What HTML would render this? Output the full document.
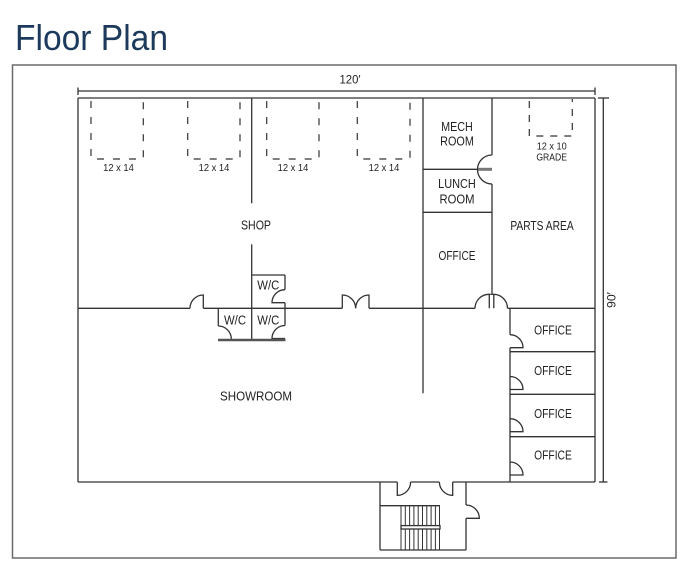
<!DOCTYPE html>
<html><head><meta charset="utf-8"><style>
html,body{margin:0;padding:0;background:#fff;}
svg{display:block;}
text{font-family:"Liberation Sans",sans-serif;fill:#222;}
</style></head><body>
<svg width="693" height="588" viewBox="0 0 693 588" xmlns="http://www.w3.org/2000/svg">
<rect width="693" height="588" fill="#fff"/>
<text x="15" y="50" font-size="36" textLength="153" lengthAdjust="spacingAndGlyphs" style="fill:#1d3a5c">Floor Plan</text>
<rect x="12.5" y="65" width="663.5" height="493" fill="none" stroke="#6a6a6a" stroke-width="1.5"/>

<g stroke="#333" stroke-width="1.3" fill="none">
<!-- dimension lines -->
<line x1="78" y1="91" x2="595" y2="91"/>
<line x1="78" y1="87.5" x2="78" y2="95"/>
<line x1="595" y1="87.5" x2="595" y2="95"/>
<line x1="603.3" y1="98" x2="603.3" y2="482"/>
<line x1="598" y1="98" x2="609" y2="98"/>
<line x1="599" y1="482" x2="607.5" y2="482"/>

<!-- outer walls -->
<line x1="78" y1="98" x2="595" y2="98"/>
<line x1="78" y1="98" x2="78" y2="482"/>
<line x1="595" y1="98" x2="595" y2="482"/>
<line x1="78" y1="482" x2="397.3" y2="482"/>
<line x1="410.7" y1="482" x2="439.3" y2="482"/>
<line x1="452.7" y1="482" x2="595" y2="482"/>

<!-- shop vertical -->
<line x1="251.7" y1="98" x2="251.7" y2="203.3"/>
<line x1="251.7" y1="244.3" x2="251.7" y2="340"/>

<!-- upper W/C -->
<line x1="251.7" y1="275" x2="285" y2="275"/>
<line x1="285" y1="275" x2="285" y2="289.7"/>
<path d="M285 289.7 A13 13 0 0 0 272 302.7 L285 302.7"/>
<line x1="285" y1="302.7" x2="285" y2="308.3"/>

<!-- lower W/C -->
<line x1="218.3" y1="308.3" x2="218.3" y2="326"/>
<path d="M218.3 326 A13 13 0 0 1 231.3 339"/>
<line x1="285" y1="308.3" x2="285" y2="325.5"/>
<path d="M285 325.5 A13 13 0 0 0 272 338.5 L285 338.5"/>

<!-- shop/showroom wall -->
<line x1="78" y1="308.3" x2="190" y2="308.3"/>
<path d="M190 308.3 A13.3 13.3 0 0 1 203.3 295 L203.3 308.3"/>
<line x1="203.3" y1="308.3" x2="342.3" y2="308.3"/>
<path d="M342.3 308.3 L342.3 295 A13.3 13.3 0 0 1 355.6 308.3"/>
<path d="M369 308.3 L369 295 A13.3 13.3 0 0 0 355.7 308.3"/>
<line x1="369" y1="308.3" x2="475" y2="308.3"/>
<path d="M475 308.3 A14 14 0 0 1 489.3 294.3 L489.3 308.3"/>
<path d="M493.8 308.3 L493.8 294.3 A14 14 0 0 1 507.5 308.3"/>
<line x1="507.5" y1="308.3" x2="595" y2="308.3"/>

<!-- middle column -->
<line x1="423" y1="98" x2="423" y2="393.3"/>
<line x1="492" y1="98" x2="492" y2="155"/>
<line x1="492" y1="184" x2="492" y2="295"/>
<line x1="423" y1="169.3" x2="478" y2="169.3"/>
<line x1="423" y1="212.3" x2="492" y2="212.3"/>
<path d="M492 155 A14.5 14.5 0 0 0 492 184"/>

<!-- offices right -->
<line x1="510" y1="308.3" x2="510" y2="334.7"/>
<path d="M510 334.7 A13 13 0 0 1 523 347.7 L510 347.7"/>
<line x1="510" y1="347.7" x2="510" y2="482"/>
<line x1="510" y1="351.7" x2="595" y2="351.7"/>
<line x1="510" y1="394.3" x2="595" y2="394.3"/>
<line x1="510" y1="436.7" x2="595" y2="436.7"/>
<path d="M510 376.5 A13 13 0 0 1 523 389.5 L510 389.5"/>
<path d="M510 418.7 A13 13 0 0 1 523 431.7 L510 431.7"/>
<path d="M510 462 A13 13 0 0 1 523 475 L510 475"/>

<!-- vestibule -->
<line x1="380" y1="482" x2="380" y2="550"/>
<line x1="466" y1="482" x2="466" y2="505"/>
<line x1="466" y1="518.3" x2="466" y2="550"/>
<line x1="380" y1="550" x2="466" y2="550"/>
<path d="M397.3 482 L397.3 495.3 A13.3 13.3 0 0 0 410.6 482"/>
<path d="M452.7 482 L452.7 495.3 A13.3 13.3 0 0 1 439.4 482"/>
<path d="M466 505 A13.3 13.3 0 0 1 479.3 518.3 L466 518.3"/>
<line x1="380" y1="505.7" x2="440" y2="505.7"/>
<g stroke-width="1">
<line x1="401" y1="505.7" x2="401" y2="550"/>
<line x1="405.3" y1="505.7" x2="405.3" y2="550"/>
<line x1="409.6" y1="505.7" x2="409.6" y2="550"/>
<line x1="413.9" y1="505.7" x2="413.9" y2="550"/>
<line x1="418.2" y1="505.7" x2="418.2" y2="550"/>
<line x1="422.5" y1="505.7" x2="422.5" y2="550"/>
<line x1="426.8" y1="505.7" x2="426.8" y2="550"/>
<line x1="431.1" y1="505.7" x2="431.1" y2="550"/>
<line x1="435.4" y1="505.7" x2="435.4" y2="550"/>
<line x1="439.5" y1="505.7" x2="439.5" y2="550"/>
</g>
<rect x="401" y="525.6" width="39" height="3.4" fill="#fff"/>

<!-- dashed bays -->
<g stroke-dasharray="7 9" stroke-width="1.2">
<path d="M91 101 L91 159 L143.3 159 L143.3 99"/>
<path d="M187.7 101 L187.7 159 L240 159 L240 99"/>
<path d="M266.7 101 L266.7 159 L319 159 L319 99"/>
<path d="M357.3 101 L357.3 159 L410 159 L410 99"/>
<path d="M529.3 101 L529.3 136 L572.3 136 L572.3 99" stroke-dasharray="7 7"/>
</g>
</g>

<!-- thick grey bars -->
<line x1="478" y1="169.3" x2="492" y2="169.3" stroke="#777" stroke-width="3"/>
<line x1="218" y1="340" x2="285.5" y2="340" stroke="#555" stroke-width="2.6"/>
<line x1="489.3" y1="294.3" x2="493.8" y2="294.3" stroke="#333" stroke-width="1"/>

<!-- labels -->
<g font-size="12.5" text-anchor="middle">
<text x="350" y="83.5" font-size="12" textLength="21" lengthAdjust="spacingAndGlyphs">120′</text>
<text x="457" y="131" textLength="31.7" lengthAdjust="spacingAndGlyphs">MECH</text>
<text x="457" y="145.5" textLength="33.7" lengthAdjust="spacingAndGlyphs">ROOM</text>
<text x="457" y="188" textLength="37.7" lengthAdjust="spacingAndGlyphs">LUNCH</text>
<text x="457" y="203.5" textLength="35" lengthAdjust="spacingAndGlyphs">ROOM</text>
<text x="457" y="260" textLength="37" lengthAdjust="spacingAndGlyphs">OFFICE</text>
<text x="542" y="230" textLength="63.3" lengthAdjust="spacingAndGlyphs">PARTS AREA</text>
<text x="256" y="229.5" textLength="30" lengthAdjust="spacingAndGlyphs">SHOP</text>
<text x="268.3" y="289.5" textLength="22" lengthAdjust="spacingAndGlyphs">W/C</text>
<text x="235" y="324.5" textLength="22" lengthAdjust="spacingAndGlyphs">W/C</text>
<text x="268.3" y="324.5" textLength="22" lengthAdjust="spacingAndGlyphs">W/C</text>
<text x="256" y="400.5" textLength="72" lengthAdjust="spacingAndGlyphs">SHOWROOM</text>
<text x="553" y="334.5" textLength="37.7" lengthAdjust="spacingAndGlyphs">OFFICE</text>
<text x="553" y="375" textLength="37.7" lengthAdjust="spacingAndGlyphs">OFFICE</text>
<text x="553" y="417.8" textLength="37.7" lengthAdjust="spacingAndGlyphs">OFFICE</text>
<text x="553" y="459.5" textLength="37.7" lengthAdjust="spacingAndGlyphs">OFFICE</text>
</g>
<g font-size="10" text-anchor="middle">
<text x="118.5" y="171" textLength="30.7" lengthAdjust="spacingAndGlyphs">12 x 14</text>
<text x="214" y="171" textLength="30.7" lengthAdjust="spacingAndGlyphs">12 x 14</text>
<text x="293" y="171" textLength="30.7" lengthAdjust="spacingAndGlyphs">12 x 14</text>
<text x="384" y="171" textLength="30.7" lengthAdjust="spacingAndGlyphs">12 x 14</text>
<text x="551.7" y="149.5" textLength="30" lengthAdjust="spacingAndGlyphs">12 x 10</text>
<text x="551.7" y="160.7" textLength="30.7" lengthAdjust="spacingAndGlyphs">GRADE</text>
<text x="0" y="0" font-size="11.5" transform="translate(615.5,300) rotate(-90)" textLength="16" lengthAdjust="spacingAndGlyphs">90′</text>
</g>
</svg>
</body></html>
